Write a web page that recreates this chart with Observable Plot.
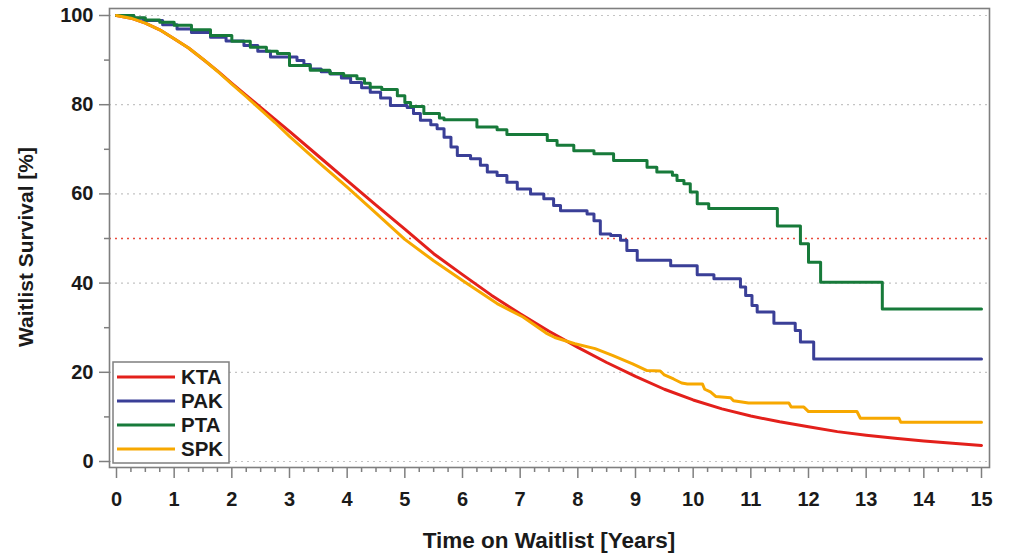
<!DOCTYPE html>
<html><head><meta charset="utf-8">
<script src="https://cdn.jsdelivr.net/npm/d3@7"></script>
<script src="https://cdn.jsdelivr.net/npm/@observablehq/plot@0.6"></script>
<style>body{margin:0;background:#fff}</style>
</head><body><div id="chart"></div>
<script>
// ---- data ----
const seriesNames = ["KTA", "PAK", "PTA", "SPK"];
const seriesColors = ["#e3201b", "#3a3f97", "#177a3a", "#f7a800"];

const ktaTime = [0,0.25,0.5,0.75,1,1.25,1.5,1.75,2,2.25,2.5,2.75,3,3.5,4,4.5,5,5.5,6,6.5,7,7.5,8,8.5,9,9.5,10,10.5,11,11.5,12,12.5,13,13.5,14,14.5,15];
const ktaSurv = [100,99.4,98.3,96.8,94.8,92.7,90.2,87.6,84.8,82.1,79.4,76.7,74.0,68.5,63.0,57.5,52.1,46.6,41.9,37.3,33.1,29.2,25.6,22.2,19.1,16.2,13.8,11.8,10.2,8.9,7.8,6.7,5.9,5.2,4.6,4.1,3.6];

const spkTime = [0,0.25,0.5,0.75,1,1.25,1.5,1.75,2,2.25,2.5,2.75,3,3.5,4,4.5,5,5.5,6,6.3,6.6,7.05,7.45,7.6,7.95,8.3,8.6,8.95,9.2,9.43,9.5,9.66,9.8,9.9,10.16,10.2,10.3,10.39,10.65,10.7,10.96,11.66,11.7,11.92,12.0,12.84,12.9,13.57,13.6,15];
const spkSurv = [100,99.4,98.3,96.8,94.8,92.7,90.2,87.5,84.6,81.8,78.9,76.0,72.9,67.1,61.5,55.7,49.8,45.0,40.6,38.0,35.4,32.4,28.8,27.8,26.4,25.3,23.8,21.9,20.4,20.3,19.4,18.5,17.6,17.4,17.4,16.2,15.6,14.6,14.3,13.6,13.1,13.1,12.2,12.2,11.2,11.2,9.7,9.7,8.8,8.8];

// step functions (value after each step)
const ptaTime = [0,0.3,0.5,0.75,1.0,1.3,1.63,2.0,2.32,2.6,2.79,3.0,3.36,3.7,3.94,4.17,4.3,4.4,4.6,4.87,5.0,5.1,5.33,5.6,5.68,6.25,6.6,6.77,7.47,7.64,7.93,8.28,8.62,9.2,9.37,9.64,9.72,9.84,9.95,10.07,10.27,11.46,11.86,12.0,12.21,13.28,15];
const ptaSurv = [100,99.5,99.0,98.5,97.8,96.8,95.5,94.2,92.9,92.0,91.5,88.8,87.7,87.0,86.5,85.8,84.8,83.9,83.4,82.0,80.5,79.6,78.0,77.0,76.6,75.0,74.4,73.3,72.0,70.9,69.7,69.0,67.5,66.0,64.9,64.2,63.0,62.3,60.4,57.8,56.7,52.8,48.8,44.7,40.2,34.2,34.2];

const pakTime = [0,0.3,0.47,0.8,1.05,1.3,1.63,1.9,2.21,2.45,2.67,3.13,3.25,3.36,3.55,3.71,3.9,4.06,4.25,4.4,4.58,4.75,5.04,5.15,5.27,5.45,5.56,5.68,5.8,5.91,6.14,6.31,6.43,6.6,6.77,6.95,7.18,7.41,7.58,7.7,8.16,8.28,8.39,8.57,8.74,8.85,9.03,9.61,10.07,10.36,10.82,10.91,11.02,11.11,11.4,11.77,11.86,12.09,15];
const pakSurv = [100,99.4,98.9,97.9,97.0,96.2,95.1,94.3,93.3,92.0,90.7,89.9,89.0,88.0,87.4,86.9,86.0,85.0,83.8,82.8,81.5,79.8,79.4,78.0,76.5,75.5,74.6,72.7,70.5,68.6,67.9,66.4,64.9,64.1,62.6,61.1,60.0,58.9,57.4,56.2,55.5,54.0,51.0,50.7,49.6,47.3,45.1,43.9,41.9,41.0,39.1,37.2,35.0,33.5,31.0,29.4,26.8,23.0,23.0];

const xMajorTicks = [0,1,2,3,4,5,6,7,8,9,10,11,12,13,14,15];
const xMinorTicks = d3.range(0, 15, 0.25).filter(d => d % 1 !== 0);
const yMajorTicks = [0,20,40,60,80,100];
const yMinorTicks = [10,30,50,70,90];
const referenceLine = [50];
const xTitle = "Time on Waitlist [Years]";
const yTitle = "Waitlist Survival [%]";

// ---- build tables ----
const rows = (name, ts, vs) => ts.map((t, i) => ({series: name, time: t, surv: vs[i]}));
const kta = rows("KTA", ktaTime, ktaSurv);
const pak = rows("PAK", pakTime, pakSurv);
const pta = rows("PTA", ptaTime, ptaSurv);
const spk = rows("SPK", spkTime, spkSurv);

const gray = "#7f7f7f";
const ink = "#1a1a1a";
const chart = Plot.plot({
  width: 1009, height: 556,
  marginLeft: 109, marginRight: 20, marginTop: 8, marginBottom: 89,
  insetLeft: 7, insetRight: 8, insetTop: 7, insetBottom: 6,
  style: {fontFamily: "'Liberation Sans', Arial, sans-serif", fontWeight: "bold", fontSize: "20px", color: ink, background: "#fff"},
  x: {domain: [0, 15]},
  y: {domain: [0, 100]},
  color: {domain: seriesNames, range: seriesColors},
  marks: [
    Plot.ruleY(yMajorTicks, {stroke: "#c4c4c4", strokeDasharray: "2,4", strokeWidth: 1.2}),
    Plot.ruleY(referenceLine, {stroke: "#ea4a3c", strokeDasharray: "2,4", strokeWidth: 1.6}),
    Plot.axisX({ticks: xMinorTicks, tickSize: 5, text: null, label: null, stroke: gray, strokeWidth: 1.5}),
    Plot.axisX({ticks: xMajorTicks, tickSize: 11, tickPadding: 13, tickFormat: d => d, label: null, stroke: gray, strokeWidth: 1.5, fontSize: 20}),
    Plot.axisY({ticks: yMinorTicks, tickSize: 5, text: null, label: null, stroke: gray, strokeWidth: 1.5}),
    Plot.axisY({ticks: yMajorTicks, tickSize: 10, tickPadding: 6, tickFormat: d => d, label: null, stroke: gray, strokeWidth: 1.5, fontSize: 20}),
    Plot.line(kta, {x: "time", y: "surv", stroke: "series", strokeWidth: 3, curve: "linear"}),
    Plot.line(pak, {x: "time", y: "surv", stroke: "series", strokeWidth: 3, curve: "step-after"}),
    Plot.line(pta, {x: "time", y: "surv", stroke: "series", strokeWidth: 3, curve: "step-after"}),
    Plot.line(spk, {x: "time", y: "surv", stroke: "series", strokeWidth: 3, curve: "linear"}),
    Plot.frame({stroke: gray, strokeWidth: 1.6})
  ]
});

const svg = d3.select(chart);
svg.append("text").attr("x", 549).attr("y", 548).attr("text-anchor", "middle")
  .style("font-size", "22.5px").style("font-weight", "bold").attr("fill", ink).text(xTitle);
svg.append("text").attr("transform", "translate(33,247) rotate(-90)").attr("text-anchor", "middle")
  .style("font-size", "21px").style("font-weight", "bold").attr("fill", ink).text(yTitle);

const lg = svg.append("g");
lg.append("rect").attr("x", 113).attr("y", 362).attr("width", 116).attr("height", 101)
  .attr("fill", "#fff").attr("stroke", gray).attr("stroke-width", 1.5);
seriesNames.forEach((name, i) => {
  const y = 377 + 24 * i;
  lg.append("line").attr("x1", 117).attr("x2", 175).attr("y1", y).attr("y2", y)
    .attr("stroke", seriesColors[i]).attr("stroke-width", 3);
  lg.append("text").attr("x", 181).attr("y", y).attr("dy", "0.36em").attr("text-anchor", "start")
    .style("font-size", "20.5px").style("font-weight", "bold").attr("fill", ink).text(name);
});

document.getElementById("chart").append(chart);
</script>
</body></html>
